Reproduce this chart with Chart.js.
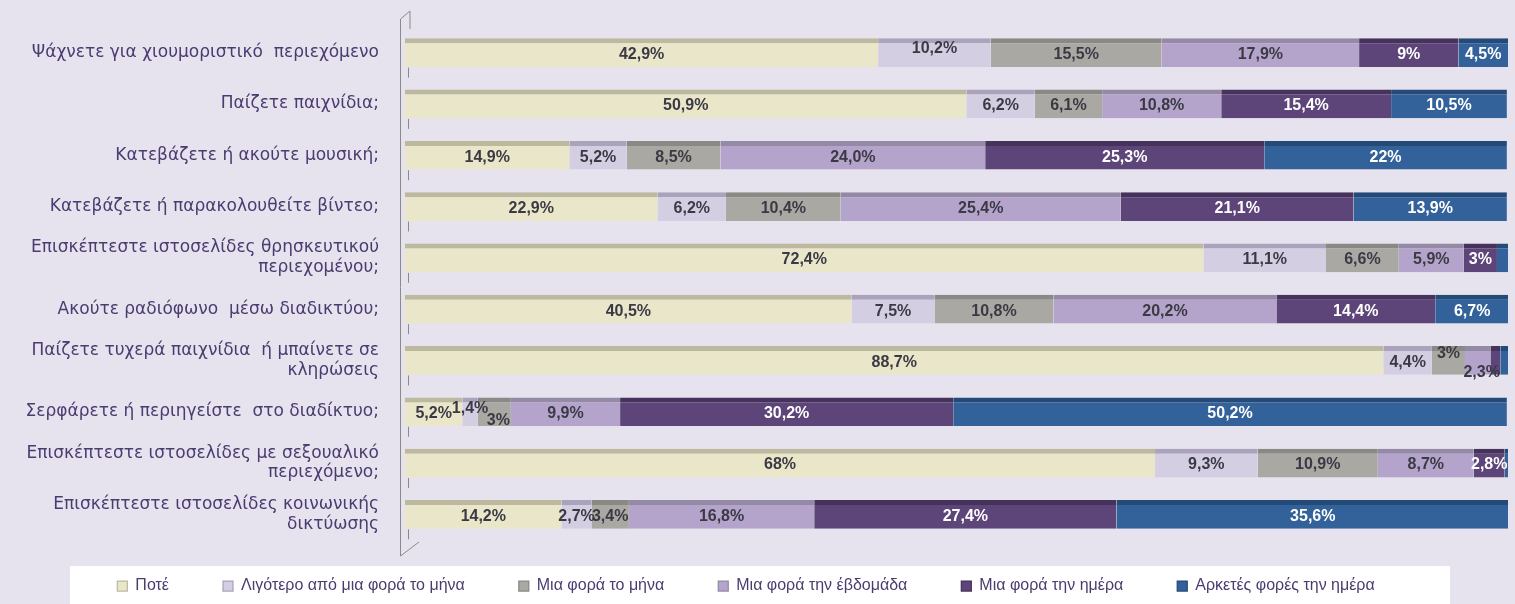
<!DOCTYPE html>
<html>
<head>
<meta charset="utf-8">
<script src="https://cdn.jsdelivr.net/npm/chart.js@4.4.1/dist/chart.umd.min.js"></script>
<style>
  html, body { margin: 0; padding: 0; background: #e6e2ee; }
  #wrap { width: 1515px; height: 604px; position: relative; }
</style>
</head>
<body>
<div id="wrap"><canvas id="myChart"></canvas></div>
<script>
// categories (questions)
const labels = [
  "Ψάχνετε για χιουμοριστικό  περιεχόμενο",
  "Παίζετε παιχνίδια;",
  "Κατεβάζετε ή ακούτε μουσική;",
  "Κατεβάζετε ή παρακολουθείτε βίντεο;",
  ["Επισκέπτεστε ιστοσελίδες θρησκευτικού", "περιεχομένου;"],
  "Ακούτε ραδιόφωνο  μέσω διαδικτύου;",
  ["Παίζετε τυχερά παιχνίδια  ή μπαίνετε σε", "κληρώσεις"],
  "Σερφάρετε ή περιηγείστε  στο διαδίκτυο;",
  ["Επισκέπτεστε ιστοσελίδες με σεξουαλικό", "περιεχόμενο;"],
  ["Επισκέπτεστε ιστοσελίδες κοινωνικής", "δικτύωσης"],
];

// series values (%), kept as written on the chart
const never      = ["42.9", "50.9", "14.9", "22.9", "72.4", "40.5", "88.7", "5.2", "68", "14.2"];
const lessMonth  = ["10.2", "6.2", "5.2", "6.2", "11.1", "7.5", "4.4", "1.4", "9.3", "2.7"];
const onceMonth  = ["15.5", "6.1", "8.5", "10.4", "6.6", "10.8", "3", "3", "10.9", "3.4"];
const onceWeek   = ["17.9", "10.8", "24.0", "25.4", "5.9", "20.2", "2.3", "9.9", "8.7", "16.8"];
const onceDay    = ["9", "15.4", "25.3", "21.1", "3", "14.4", "0.9", "30.2", "2.8", "27.4"];
const manyDay    = ["4.5", "10.5", "22", "13.9", "1.0", "6.7", "0.7", "50.2", "0.3", "35.6"];

const seriesNames = [
  "Ποτέ",
  "Λιγότερο από μια φορά το μήνα",
  "Μια φορά το μήνα",
  "Μια φορά την έβδομάδα",
  "Μια φορά την ημέρα",
  "Αρκετές φορές την ημέρα",
];
const seriesData = [never, lessMonth, onceMonth, onceWeek, onceDay, manyDay];
const fills = ["#e9e6c9", "#d4cee3", "#a9a8a3", "#b4a4cb", "#5d4479", "#33619a"];
const tops  = ["#bdb99e", "#aaa3bb", "#8a8984", "#948aa6", "#46335c", "#244a78"];
const textCols = ["#3b3a44", "#3b3a44", "#3b3a44", "#3b3a44", "#ffffff", "#ffffff"];

const datasets = seriesNames.map((name, i) => ({
  label: name,
  data: seriesData[i].map(Number),
  backgroundColor: fills[i],
  borderColor: tops[i],
  borderWidth: { top: 5, right: 0, bottom: 0, left: 0 },
  borderSkipped: false,
  barPercentage: 0.56,
  categoryPercentage: 1.0,
}));

// small nudges for labels that collide in narrow segments: [series, row, dx, dy]
const nudges = [[1, 0, 0, -6], [2, 6, 0, -9], [3, 6, 4, 10], [1, 7, 0, -5], [2, 7, 4, 7]];

const valueLabels = {
  id: "valueLabels",
  afterDatasetsDraw(chart) {
    const ctx = chart.ctx;
    ctx.save();
    ctx.font = "bold 16px 'Liberation Sans', Arial, sans-serif";
    ctx.textAlign = "center";
    ctx.textBaseline = "middle";
    chart.data.datasets.forEach((ds, i) => {
      chart.getDatasetMeta(i).data.forEach((bar, j) => {
        const v = ds.data[j];
        if (v < 1.1) return;
        let dx = 0, dy = 2;
        nudges.forEach(n => { if (n[0] === i && n[1] === j) { dx = n[2]; dy = n[3] + 2; } });
        const txt = seriesData[i][j].replace(".", ",") + "%";
        const cx = (bar.x + bar.base) / 2;
        ctx.fillStyle = textCols[i];
        ctx.fillText(txt, cx + dx, bar.y + dy);
      });
    });
    ctx.restore();
  },
};

// back wall / floor lines and legend panel
const decor = {
  id: "decor",
  beforeDraw(chart) {
    const ctx = chart.ctx;
    const a = chart.chartArea;
    ctx.save();
    ctx.fillStyle = "#ffffff";
    ctx.fillRect(70, 566, 1380, 38);
    ctx.strokeStyle = "#8a8a8a";
    ctx.lineWidth = 1;
    ctx.beginPath();
    ctx.moveTo(a.left - 4.5, a.top - 8);
    ctx.lineTo(a.left - 4.5, a.bottom + 16);
    ctx.lineTo(a.left + 14, a.bottom + 2);
    ctx.moveTo(a.left - 4.5, a.top - 8);
    ctx.lineTo(a.left + 5, a.top - 16);
    ctx.lineTo(a.left + 5, a.top + 2);
    ctx.stroke();
    const ys = chart.scales.y;
    ctx.beginPath();
    for (let k = 0; k < labels.length; k++) {
      const y = ys.getPixelForValue(k) + 25;
      ctx.moveTo(a.left + 3.5, y - 10);
      ctx.lineTo(a.left + 3.5, y);
    }
    ctx.stroke();
    ctx.restore();
  },
};

const config = {
  type: "bar",
  data: { labels: labels, datasets: datasets },
  options: {
    indexAxis: "y",
    responsive: true,
    maintainAspectRatio: false,
    animation: false,
    layout: { padding: { top: 27, right: 7, left: 0, bottom: 0 } },
    scales: {
      x: {
        stacked: true,
        min: 0,
        max: 100,
        display: false,
      },
      y: {
        stacked: true,
        grid: { display: false },
        border: { display: false },
        afterFit: scale => {
          scale.width = 405;
          scale.paddingTop = 0;
          scale.paddingBottom = 0;
        },
        ticks: {
          padding: 18,
          color: "#4b3c70",
          font: { family: "'DejaVu Sans', sans-serif", size: 17, lineHeight: 1.15 },
        },
      },
    },
    plugins: {
      legend: {
        position: "bottom",
        labels: {
          boxWidth: 10,
          boxHeight: 10,
          padding: 38,
          color: "#4b3c70",
          font: { family: "'Liberation Sans', Arial, sans-serif", size: 16 },
          generateLabels: chart => Chart.defaults.plugins.legend.labels.generateLabels(chart)
            .map(l => Object.assign(l, { text: l.text + "\u2003" })),
        },
      },
      tooltip: { enabled: false },
    },
  },
  plugins: [decor, valueLabels],
};

const myChart = new Chart(document.getElementById("myChart"), config);
</script>
</body>
</html>
